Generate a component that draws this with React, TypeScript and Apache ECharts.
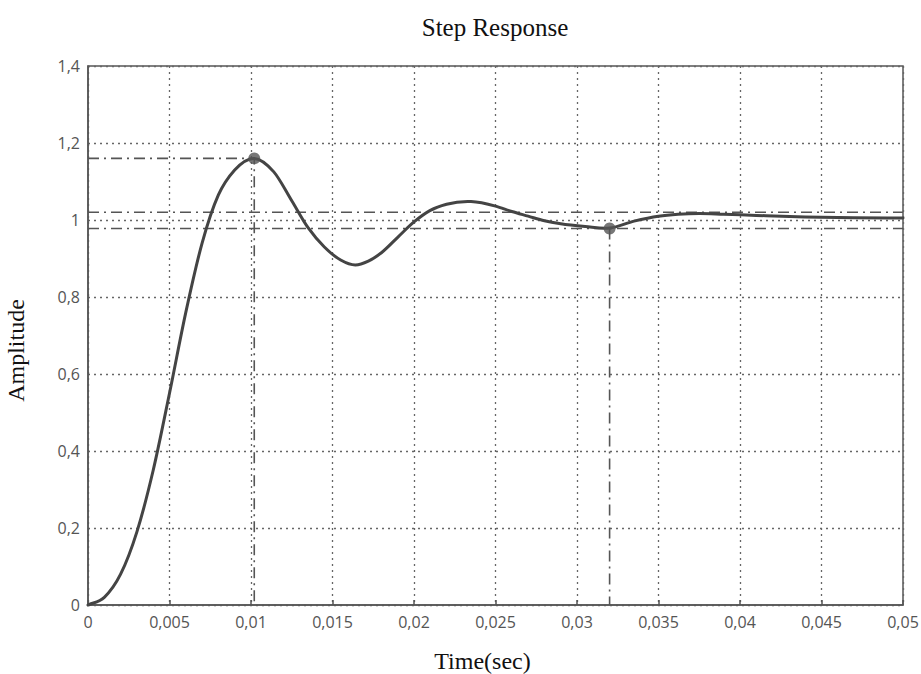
import React, { useEffect, useRef } from "react";
import * as echarts from "echarts";

const timeValues = [0, 0.001, 0.002, 0.003, 0.004, 0.005, 0.006, 0.007, 0.008, 0.009, 0.0102, 0.0114, 0.0125, 0.0135, 0.0145, 0.0155, 0.0164, 0.0172, 0.018, 0.019, 0.02, 0.021, 0.022, 0.0235, 0.025, 0.026, 0.027, 0.028, 0.029, 0.0305, 0.032, 0.0335, 0.035, 0.0362, 0.0375, 0.039, 0.041, 0.044, 0.047, 0.05];
const amplitudeValues = [0, 0.02, 0.08, 0.19, 0.35, 0.55, 0.76, 0.94, 1.065, 1.13, 1.16, 1.125, 1.05, 0.98, 0.93, 0.896, 0.883, 0.893, 0.915, 0.955, 0.995, 1.025, 1.041, 1.048, 1.036, 1.022, 1.01, 0.998, 0.99, 0.983, 0.979, 0.997, 1.01, 1.015, 1.017, 1.015, 1.012, 1.008, 1.006, 1.005];

const peakPoint = [0.0102, 1.16];
const settlePoint = [0.032, 0.978];
const bandUpper = 1.02;
const bandLower = 0.978;

const xTicks = { min: 0, max: 0.05, interval: 0.005 };
const yTicks = { min: 0, max: 1.4, interval: 0.2 };

const fmt = (v: number) => (v === 0 ? "0" : String(+v.toFixed(4)).replace(".", ","));

// Cubic Hermite curve through pixel points (tangents from weighted neighbour slopes)
function hermitePath(pts: number[][]): string {
  const n = pts.length;
  const m: number[] = new Array(n).fill(0);
  for (let i = 0; i < n; i++) {
    if (i === 0) m[i] = (pts[1][1] - pts[0][1]) / (pts[1][0] - pts[0][0]);
    else if (i === n - 1) m[i] = (pts[n - 1][1] - pts[n - 2][1]) / (pts[n - 1][0] - pts[n - 2][0]);
    else {
      const h0 = pts[i][0] - pts[i - 1][0];
      const h1 = pts[i + 1][0] - pts[i][0];
      const s0 = (pts[i][1] - pts[i - 1][1]) / h0;
      const s1 = (pts[i + 1][1] - pts[i][1]) / h1;
      m[i] = (s0 * h1 + s1 * h0) / (h0 + h1);
    }
  }
  let d = `M${pts[0][0]},${pts[0][1]}`;
  for (let i = 0; i < n - 1; i++) {
    const h = pts[i + 1][0] - pts[i][0];
    const c1 = [pts[i][0] + h / 3, pts[i][1] + (m[i] * h) / 3];
    const c2 = [pts[i + 1][0] - h / 3, pts[i + 1][1] - (m[i + 1] * h) / 3];
    d += ` C${c1[0]},${c1[1]} ${c2[0]},${c2[1]} ${pts[i + 1][0]},${pts[i + 1][1]}`;
  }
  return d;
}

export default function App() {
  const ref = useRef<HTMLDivElement>(null);
  useEffect(() => {
    if (!ref.current) return;
    const chart = echarts.init(ref.current, null, { renderer: "svg" });
    const dashDot = [11, 5, 2, 5];
    const refStyle = { color: "#555", width: 1.6, type: dashDot };
    const labelFont = { fontFamily: "Open Sans", fontSize: 16, color: "#555" };
    chart.setOption({
      animation: false,
      backgroundColor: "#fff",
      title: {
        text: "Step Response",
        left: 490,
        textAlign: "center",
        top: 10,
        textStyle: { fontFamily: "Liberation Serif", fontSize: 25, fontWeight: "normal", color: "#111" },
      },
      grid: {
        left: 88, right: 18, top: 66, bottom: 69,
        outerBoundsMode: "none", containLabel: false,
        show: true, borderColor: "#555", borderWidth: 1.5,
      },
      xAxis: {
        type: "value",
        min: xTicks.min,
        max: xTicks.max,
        interval: xTicks.interval,
        name: "Time(sec)",
        nameLocation: "middle",
        nameGap: 44,
        nameTextStyle: { fontFamily: "Liberation Serif", fontSize: 24, color: "#111", padding: [0, 26, 0, 0] },
        axisLine: { show: true, lineStyle: { color: "#555", width: 1.5 } },
        axisTick: { show: true, inside: true, length: 5, lineStyle: { color: "#555", width: 1.5 } },
        axisLabel: { formatter: fmt, ...labelFont, margin: 9 },
        splitLine: { show: true, lineStyle: { color: "#666", width: 1.3, type: [2, 4] } },
      },
      yAxis: {
        type: "value",
        min: yTicks.min,
        max: yTicks.max,
        interval: yTicks.interval,
        name: "Amplitude",
        nameLocation: "middle",
        nameGap: 60,
        nameTextStyle: { fontFamily: "Liberation Serif", fontSize: 24, color: "#111", padding: [0, 30, 0, 0] },
        axisLine: { show: true, lineStyle: { color: "#555", width: 1.5 } },
        axisTick: { show: false },
        axisLabel: { formatter: fmt, ...labelFont, margin: 8 },
        splitLine: { show: true, lineStyle: { color: "#666", width: 1.3, type: [2, 4] } },
      },
      series: [
        {
          type: "line",
          data: [[xTicks.min, bandUpper], [xTicks.max, bandUpper]],
          symbol: "none",
          lineStyle: refStyle,
          silent: true,
        },
        {
          type: "line",
          data: [[xTicks.min, bandLower], [xTicks.max, bandLower]],
          symbol: "none",
          lineStyle: refStyle,
          silent: true,
        },
        {
          type: "line",
          data: [[xTicks.min, peakPoint[1]], [peakPoint[0], peakPoint[1]], [peakPoint[0], yTicks.min]],
          symbol: "none",
          lineStyle: refStyle,
          silent: true,
        },
        {
          type: "line",
          data: [[settlePoint[0], settlePoint[1]], [settlePoint[0], yTicks.min]],
          symbol: "none",
          lineStyle: refStyle,
          silent: true,
        },
        {
          type: "custom",
          name: "Step response",
          data: timeValues.map((t, i) => [t, amplitudeValues[i]]),
          encode: { x: 0, y: 1 },
          z: 5,
          renderItem: (params: any, api: any) => {
            if (params.dataIndex !== 0) return null;
            const pts = timeValues.map((t, i) => api.coord([t, amplitudeValues[i]]));
            return {
              type: "path",
              shape: { pathData: hermitePath(pts) },
              style: { stroke: "#444", lineWidth: 3, fill: "none", lineJoin: "round", lineCap: "round" },
              silent: true,
            };
          },
        },
        {
          type: "scatter",
          data: [peakPoint, settlePoint],
          symbolSize: 12,
          itemStyle: { color: "#555" },
          z: 6,
        },
      ],
    });
    return () => chart.dispose();
  }, []);
  return <div ref={ref} style={{ width: 921, height: 674, position: "absolute", left: 0, top: 0 }} />;
}
